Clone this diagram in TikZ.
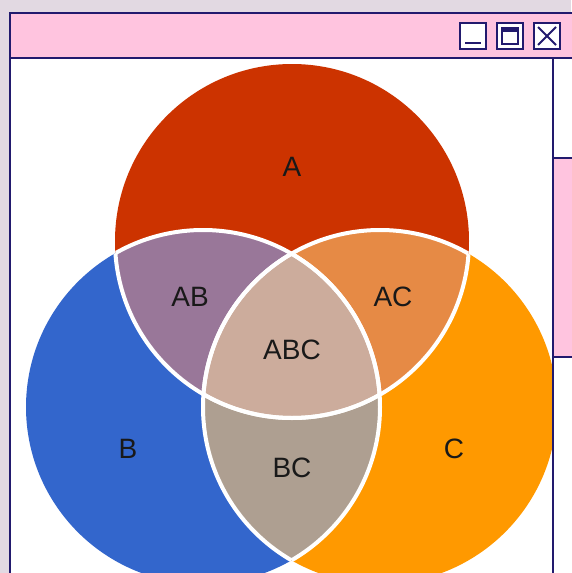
\documentclass[tikz,border=0pt]{standalone}
\usepackage{fontspec}
\setmainfont{Liberation Sans}
\usepackage{tikz}
\definecolor{navy}{HTML}{221A6E}
\definecolor{pinkbar}{HTML}{FFC4DF}
\definecolor{lavender}{HTML}{E2D9E2}
\definecolor{colA}{HTML}{CC3300}
\definecolor{colB}{HTML}{3366CC}
\definecolor{colC}{HTML}{FF9900}
\definecolor{colAB}{HTML}{997799}
\definecolor{colAC}{HTML}{E68A45}
\definecolor{colBC}{HTML}{AE9F91}
\definecolor{colABC}{HTML}{CCAC9C}
\newcommand{\circA}{(292,241) circle[radius=177pt]}
\newcommand{\circB}{(203,407) circle[radius=177pt]}
\newcommand{\circC}{(380,407) circle[radius=177pt]}

\begin{document}
\begin{tikzpicture}[x=1pt,y=-1pt,
  frame/.style={draw=navy,line width=2pt},
  btn/.style={frame,fill=white,minimum size=26pt,inner sep=0pt},
  glyph/.style={draw=navy,line width=2.2pt},
  sep/.style={draw=white,line width=4pt},
  lbl/.style={inner sep=0pt,text=black!90,font=\fontsize{28}{34}\selectfont}]
  \useasboundingbox (0,0) rectangle (571,573);
  \fill[lavender] (0,0) rectangle (571,573);
  \fill[pinkbar] (10,13) rectangle (580,58);
  \fill[white] (10,58) rectangle (580,580);
  \fill[pinkbar] (553,158) rectangle (580,357);

  \begin{scope}
    \clip (11,59) rectangle (553,580);
    \fill[colA] \circA;
    \fill[colB] \circB;
    \fill[colC] \circC;
    \begin{scope} \clip \circA; \fill[colAB] \circB; \fill[colAC] \circC; \end{scope}
    \begin{scope} \clip \circB; \fill[colBC] \circC; \end{scope}
    \begin{scope} \clip \circA; \clip \circB; \fill[colABC] \circC; \end{scope}
    \begin{scope} \clip \circA; \draw[sep] \circB; \draw[sep] \circC; \end{scope}
    \begin{scope} \clip \circB; \draw[sep] \circA; \draw[sep] \circC; \end{scope}
    \begin{scope} \clip \circC; \draw[sep] \circA; \draw[sep] \circB; \end{scope}
  \end{scope}

  \node[lbl] (a)   at (292,167) {A};
  \node[lbl] (ab)  at (190,297) {AB};
  \node[lbl] (ac)  at (393,297) {AC};
  \node[lbl] (abc) at (292,350) {ABC};
  \node[lbl] (b)   at (128,449) {B};
  \node[lbl] (bc)  at (292,468) {BC};
  \node[lbl] (c)   at (454,449) {C};

  \draw[frame] (10,580) -- (10,13) -- (580,13);
  \draw[frame] (10,58) -- (580,58);
  \draw[frame] (553,58) -- (553,580);
  \draw[frame] (553,158) -- (580,158);
  \draw[frame] (553,357) -- (580,357);

  \node[btn] (minbtn)   at (473,36) {};
  \node[btn] (maxbtn)   at (510,36) {};
  \node[btn] (closebtn) at (547,36) {};
  \draw[glyph] ([shift={(6pt,7pt)}]minbtn.south west) -- ([shift={(-6pt,7pt)}]minbtn.south east);
  \draw[draw=navy,line width=1.8pt] ([shift={(6pt,6pt)}]maxbtn.south west) rectangle ([shift={(-6pt,-6pt)}]maxbtn.north east);
  \fill[navy] ([shift={(6pt,-6pt)}]maxbtn.north west) rectangle ([shift={(-6pt,-10pt)}]maxbtn.north east);
  \draw[glyph,line width=1.8pt] ([shift={(5pt,5pt)}]closebtn.south west) -- ([shift={(-5pt,-5pt)}]closebtn.north east);
  \draw[glyph,line width=1.8pt] ([shift={(5pt,-5pt)}]closebtn.north west) -- ([shift={(-5pt,5pt)}]closebtn.south east);
\end{tikzpicture}
\end{document}
